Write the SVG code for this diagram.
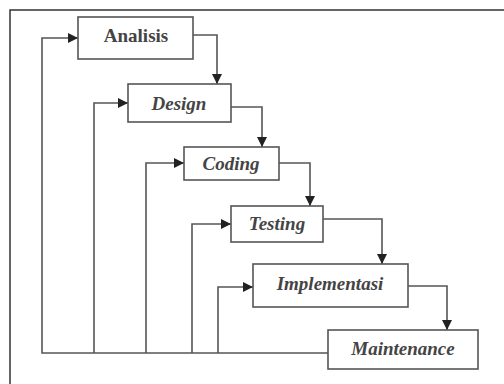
<svg xmlns="http://www.w3.org/2000/svg" width="504" height="384" viewBox="0 0 504 384">
<defs>
<style>
.box{fill:#fff;stroke:#555;stroke-width:1.6}
.lbl{font-family:"Liberation Serif",serif;font-size:19px;fill:#444;text-anchor:middle;font-weight:bold}
.it{font-style:italic}
.c{fill:none;stroke:#555;stroke-width:1.6}
</style>
<marker id="ah" viewBox="0 0 10 10" refX="10" refY="5" markerWidth="10" markerHeight="10" markerUnits="userSpaceOnUse" orient="auto">
<path d="M0,0 L10,5 L0,10 z" fill="#222"/>
</marker>
</defs>
<rect width="504" height="384" fill="#fff"/>
<path d="M10,384 V10 H504" fill="none" stroke="#333" stroke-width="1.5"/>
<g id="connectors">
<path class="c" d="M193,35 H217 V84" marker-end="url(#ah)"/>
<path class="c" d="M231,107 H262 V147" marker-end="url(#ah)"/>
<path class="c" d="M279,163 H310 V206" marker-end="url(#ah)"/>
<path class="c" d="M323,219 H382 V264" marker-end="url(#ah)"/>
<path class="c" d="M408,286 H447 V330" marker-end="url(#ah)"/>
<path class="c" d="M328,353 H42 V38 H78" marker-end="url(#ah)"/>
<path class="c" d="M94,353 V103 H128" marker-end="url(#ah)"/>
<path class="c" d="M146,353 V163 H184" marker-end="url(#ah)"/>
<path class="c" d="M192,353 V224 H231" marker-end="url(#ah)"/>
<path class="c" d="M218,353 V287 H253" marker-end="url(#ah)"/>
</g>
<g id="analisis">
<rect class="box" x="78" y="17" width="115" height="42"/>
<text class="lbl" x="136" y="42">Analisis</text>
</g>
<g id="design">
<rect class="box" x="128" y="84" width="103" height="38"/>
<text class="lbl it" x="179" y="110">Design</text>
</g>
<g id="coding">
<rect class="box" x="184" y="147" width="95" height="33"/>
<text class="lbl it" x="231" y="170">Coding</text>
</g>
<g id="testing">
<rect class="box" x="231" y="206" width="92" height="36"/>
<text class="lbl it" x="277" y="230">Testing</text>
</g>
<g id="implementasi">
<rect class="box" x="253" y="264" width="155" height="43"/>
<text class="lbl it" x="330" y="290">Implementasi</text>
</g>
<g id="maintenance">
<rect class="box" x="328" y="330" width="150" height="39"/>
<text class="lbl it" x="403" y="355">Maintenance</text>
</g>
</svg>
